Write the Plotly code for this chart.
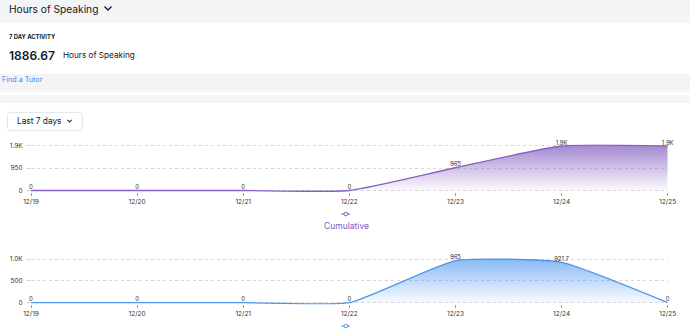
import plotly.graph_objects as go

# ---- data -------------------------------------------------------------
dates = ["12/19", "12/20", "12/21", "12/22", "12/23", "12/24", "12/25"]
cumulative_hours = [0, 0, 0, 0, 965, 1886.7, 1886.7]
daily_hours = [0, 0, 0, 0, 965, 921.7, 0]

top_ticks = [0, 950, 1900]
top_tick_text = ["0", "950", "1.9K"]
bottom_ticks = [0, 500, 1000]
bottom_tick_text = ["0", "500", "1.0K"]

total_hours = "1886.67"

# ---- page geometry helpers (pixels -> paper) --------------------------
W, H = 690, 333
FONT = "Inter"


def px(x):
    return x / W


def py(y):
    return 1 - y / H


def short(v):
    return f"{v / 1000:.1f}K" if v >= 1000 else f"{v:g}"


PURPLE = "#8661c1"
BLUE = "#4f93ec"

fig = go.Figure()

fig.add_trace(go.Scatter(
    x=dates, y=cumulative_hours, mode="lines+text",
    line=dict(color=PURPLE, width=1.3, shape="spline", smoothing=0.5),
    fill="tozeroy",
    fillgradient=dict(type="vertical", colorscale=[
        [0, "rgba(134,97,193,0.02)"], [1, "rgba(134,97,193,0.75)"]]),
    text=[short(v) for v in cumulative_hours], textposition="top center",
    textfont=dict(family=FONT, size=6, color="#333"), cliponaxis=False,
    hoverinfo="skip", showlegend=False, xaxis="x", yaxis="y",
))

fig.add_trace(go.Scatter(
    x=dates, y=daily_hours, mode="lines+text",
    line=dict(color=BLUE, width=1.3, shape="spline", smoothing=0.45),
    fill="tozeroy",
    fillgradient=dict(type="vertical", colorscale=[
        [0, "rgba(60,140,240,0.02)"], [1, "rgba(60,140,240,0.6)"]]),
    text=[short(v) for v in daily_hours], textposition="top center",
    textfont=dict(family=FONT, size=6, color="#333"), cliponaxis=False,
    hoverinfo="skip", showlegend=False, xaxis="x2", yaxis="y2",
))

x_dom = [px(31), px(667.7)]
xaxis_style = dict(
    type="category", range=[0, 6], domain=x_dom, showgrid=False,
    zeroline=False, showline=False, ticks="outside", ticklen=3,
    tickcolor="#999", tickfont=dict(family=FONT, size=6.5, color="#333"),
    fixedrange=True,
)
yaxis_style = dict(
    showgrid=True, gridcolor="#d6d6d6", griddash="3px,3px", gridwidth=1,
    zeroline=False, showline=False, ticks="outside", ticklen=3,
    tickcolor="#cfcfcf", ticklabelstandoff=3,
    tickfont=dict(family=FONT, size=6.5, color="#333"), fixedrange=True,
)

fig.update_layout(
    width=W, height=H,
    margin=dict(l=0, r=0, t=0, b=0, pad=0, autoexpand=False),
    paper_bgcolor="white", plot_bgcolor="rgba(0,0,0,0)",
    font=dict(family=FONT),
    xaxis=dict(**xaxis_style, anchor="y"),
    yaxis=dict(**yaxis_style, anchor="x", range=[-60, 1960],
               domain=[py(191.91), py(144.29)],
               tickvals=top_ticks, ticktext=top_tick_text),
    xaxis2=dict(**xaxis_style, anchor="y2"),
    yaxis2=dict(**yaxis_style, anchor="x2", range=[-40, 1060],
                domain=[py(304.45), py(256.38)],
                tickvals=bottom_ticks, ticktext=bottom_tick_text),
)

GRAY = "#f3f4f6"
shapes = [
    dict(type="rect", xref="paper", yref="paper", x0=0, x1=1,
         y0=py(22.7), y1=py(0), fillcolor=GRAY, line_width=0, layer="below"),
    dict(type="rect", xref="paper", yref="paper", x0=0, x1=1,
         y0=py(92.3), y1=py(74), fillcolor=GRAY, line_width=0, layer="below"),
    dict(type="rect", xref="paper", yref="paper", x0=0, x1=1,
         y0=py(103), y1=py(95), fillcolor=GRAY, line_width=0, layer="below"),
]


def path_px(points):
    return "M " + " L ".join(f"{px(x)},{py(y)}" for x, y in points)


def rounded_rect(x0, y0, x1, y1, r):
    return (f"M {px(x0 + r)},{py(y0)} L {px(x1 - r)},{py(y0)} "
            f"Q {px(x1)},{py(y0)} {px(x1)},{py(y0 + r)} "
            f"L {px(x1)},{py(y1 - r)} Q {px(x1)},{py(y1)} {px(x1 - r)},{py(y1)} "
            f"L {px(x0 + r)},{py(y1)} Q {px(x0)},{py(y1)} {px(x0)},{py(y1 - r)} "
            f"L {px(x0)},{py(y0 + r)} Q {px(x0)},{py(y0)} {px(x0 + r)},{py(y0)} Z")


# header chevron
shapes.append(dict(type="path", xref="paper", yref="paper",
                   path=path_px([(104.5, 6.5), (108, 10), (111.5, 6.5)]),
                   line=dict(color="#111827", width=1.3)))
# "Last 7 days" selector
shapes.append(dict(type="path", xref="paper", yref="paper",
                   path=rounded_rect(7.5, 112.3, 82.3, 130.7, 3),
                   line=dict(color="#e2e4e8", width=1), fillcolor="white"))
shapes.append(dict(type="path", xref="paper", yref="paper",
                   path=path_px([(67.3, 119.8), (69.5, 122), (71.7, 119.8)]),
                   line=dict(color="#333", width=1.1)))

# series markers under each chart
for y_icon, col in [(214, PURPLE), (326, BLUE)]:
    shapes.append(dict(type="line", xref="paper", yref="paper",
                       x0=px(341.5), x1=px(350), y0=py(y_icon), y1=py(y_icon),
                       line=dict(color=col, width=1.2)))
    shapes.append(dict(type="circle", xref="paper", yref="paper",
                       x0=px(344), x1=px(347.6), y0=py(y_icon + 1.8),
                       y1=py(y_icon - 1.8), fillcolor="white",
                       line=dict(color=col, width=1)))

fig.update_layout(shapes=shapes)


def label(text, x, y, size, color="#111827", weight=None, anchor="left"):
    f = dict(family=FONT, size=size, color=color)
    if weight:
        f["weight"] = weight
    return dict(text=text, x=px(x), y=py(y), xref="paper", yref="paper",
                xanchor=anchor, yanchor="middle", showarrow=False, font=f)


fig.update_layout(annotations=[
    label("Hours of Speaking", 6.5, 9.5, 10.2),
    label("7 DAY ACTIVITY", 6.5, 36, 5.8, weight=700),
    label(total_hours, 6.5, 55.5, 12, weight=600),
    label("Hours of Speaking", 60.5, 55.5, 8.2),
    label("Find a Tutor", 0, 79.3, 7.2, color="#3b82f6"),
    label("Last 7 days", 15, 121, 8.3),
    label("Cumulative", 346.5, 226, 8.5, color="#7e57c2", anchor="center"),
])

fig.write_html(
    "out.html",
    config={"responsive": False, "displayModeBar": False},
)
